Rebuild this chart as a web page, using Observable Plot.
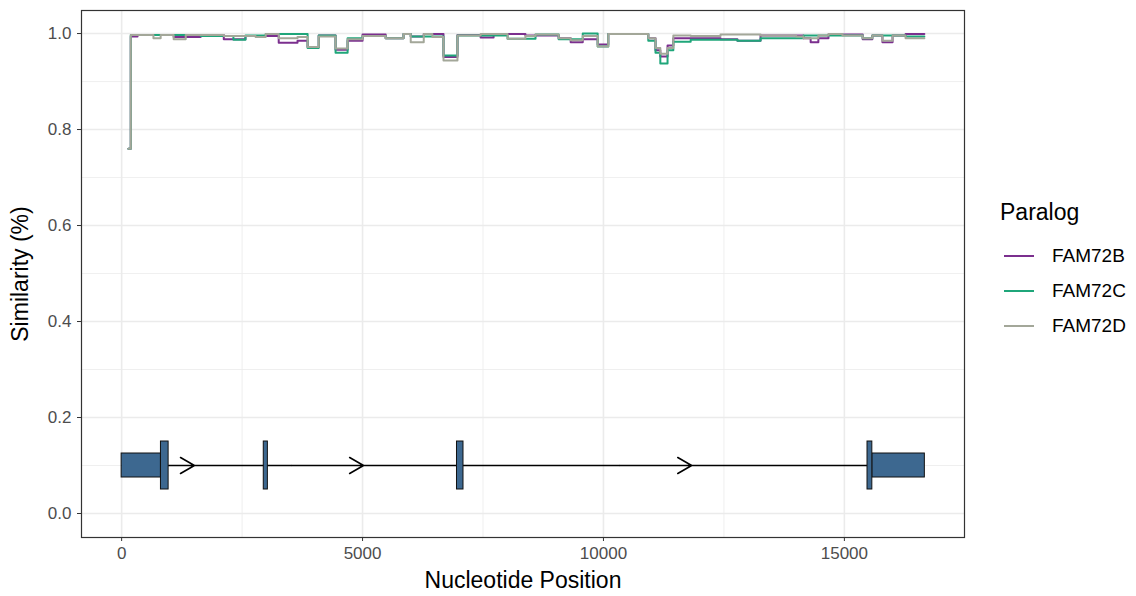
<!DOCTYPE html>
<html>
<head>
<meta charset="utf-8">
<script src="https://cdn.jsdelivr.net/npm/d3@7"></script>
<script src="https://cdn.jsdelivr.net/npm/@observablehq/plot@0.6"></script>
<style>
  html, body { margin: 0; padding: 0; background: #fff; }
  body { width: 1136px; height: 596px; position: relative; overflow: hidden; font-family: "Liberation Sans", Arial, sans-serif; }
  #chart { position: absolute; left: 0; top: 0; }
  #legend { position: absolute; left: 1000px; top: 198px; color: #000; }
  #legend .title { font-size: 23px; line-height: 28px; margin-bottom: 12px; }
  #legend .item { display: flex; align-items: center; height: 35px; font-size: 19px; }
  #legend .key { width: 30px; height: 2px; margin-left: 4px; margin-right: 18px; }
</style>
</head>
<body>
<div id="chart"></div>
<div id="legend"></div>
<script>
// ---- data ----
const paralogs = ["FAM72B", "FAM72C", "FAM72D"];
const colors = ["#7B2F8E", "#1FA67A", "#A3A799"];

const fam72bPos = [140, 190, 330, 1080, 1640, 2120, 2570, 3260, 3650, 3860, 4090, 4440, 4690, 5000, 5480, 5850, 6000, 6270, 6680, 6970, 7450, 7720, 8380, 9070, 9320, 9570, 9880, 10100, 10930, 11080, 11180, 11330, 11450, 12430, 12780, 13260, 14150, 14300, 14460, 14670, 15380, 15580, 15790, 16000, 16270, 16660];
const fam72bSim = [0.76, 0.994, 0.997, 0.993, 0.997, 0.988, 0.995, 0.981, 0.985, 0.972, 0.996, 0.966, 0.985, 0.998, 0.990, 0.999, 0.994, 0.999, 0.951, 0.997, 0.992, 0.999, 0.996, 0.990, 0.982, 0.988, 0.977, 0.999, 0.990, 0.965, 0.952, 0.975, 0.990, 0.988, 0.985, 0.996, 0.990, 0.982, 0.990, 0.998, 0.988, 0.996, 0.982, 0.996, 0.999, 0.999];

const fam72cPos = [140, 190, 1640, 2320, 2570, 2990, 3860, 4090, 4440, 4690, 5000, 5480, 5850, 6000, 6680, 6970, 8010, 8590, 9070, 9570, 9880, 10100, 10930, 11080, 11180, 11330, 11450, 11810, 12780, 13260, 14150, 15380, 15580, 16270, 16660];
const fam72cSim = [0.76, 0.997, 0.995, 0.987, 0.996, 0.999, 0.970, 0.996, 0.960, 0.990, 0.995, 0.990, 0.999, 0.994, 0.954, 0.996, 0.989, 0.998, 0.988, 1.000, 0.973, 0.999, 0.985, 0.960, 0.9375, 0.965, 0.983, 0.987, 0.985, 0.990, 0.996, 0.990, 0.996, 0.994, 0.994];

const fam72dPos = [140, 190, 660, 810, 1080, 1330, 2120, 2780, 2990, 3260, 3650, 3860, 4090, 4440, 4690, 5000, 5480, 5850, 6000, 6270, 6450, 6680, 6970, 7450, 8010, 8380, 8590, 9070, 9320, 9570, 9880, 10100, 10930, 11080, 11180, 11330, 11450, 11810, 12430, 13260, 14000, 14150, 14460, 14670, 14960, 15380, 15580, 15790, 16000, 16270, 16660];
const fam72dSim = [0.76, 0.997, 0.990, 0.997, 0.988, 0.997, 0.995, 0.993, 0.999, 0.990, 0.993, 0.972, 0.994, 0.969, 0.988, 0.995, 0.990, 0.999, 0.982, 0.999, 0.993, 0.944, 0.996, 0.999, 0.989, 0.995, 0.998, 0.990, 0.986, 0.995, 0.973, 0.999, 0.990, 0.970, 0.958, 0.970, 0.996, 0.995, 0.998, 0.996, 0.994, 0.990, 0.996, 0.999, 0.996, 0.990, 0.996, 0.985, 0.996, 0.990, 0.990];

// gene model (nucleotide coordinates)
const utrStart = [0, 15580];
const utrEnd = [816, 16670];
const exonStart = [816, 2950, 6960, 15480];
const exonEnd = [975, 3035, 7095, 15580];
const intronEndPos = 15480;
const arrowTips = [1510, 5020, 11830];
const arrowShaft = 1500;

const xTicks = [0, 5000, 10000, 15000];
const xMinor = [2500, 7500, 12500];
const yTicks = [0, 0.2, 0.4, 0.6, 0.8, 1.0];
const yMinor = [0.1, 0.3, 0.5, 0.7, 0.9];

// ---- tables ----
const series = [
  [paralogs[0], fam72bPos, fam72bSim],
  [paralogs[1], fam72cPos, fam72cSim],
  [paralogs[2], fam72dPos, fam72dSim]
];
const lineData = series.flatMap(([name, pos, sim]) => pos.map((p, i) => ({paralog: name, pos: p, sim: sim[i]})));
const utrs = utrStart.map((s, i) => ({s, e: utrEnd[i]}));
const exons = exonStart.map((s, i) => ({s, e: exonEnd[i]}));
const arrows = arrowTips.map(t => ({t}));
// intron line pieces between arrows (non-overlapping with the arrow shafts)
const intronPieces = arrowTips.map((t, i) => ({a: t, b: i + 1 < arrowTips.length ? arrowTips[i + 1] - arrowShaft : intronEndPos}));

const grid = "#EBEBEB";
const chart = Plot.plot({
  width: 985,
  height: 596,
  marginLeft: 81,
  marginRight: 21,
  marginTop: 10,
  marginBottom: 59,
  style: {fontFamily: "Liberation Sans, Arial, sans-serif", fontSize: "17px", background: "#fff"},
  x: {domain: [-833, 17493]},
  y: {domain: [-0.05, 1.048]},
  color: {domain: paralogs, range: colors},
  marks: [
    Plot.ruleX(xMinor, {stroke: grid, strokeWidth: 0.8}),
    Plot.ruleY(yMinor, {stroke: grid, strokeWidth: 0.8}),
    Plot.ruleX(xTicks, {stroke: grid, strokeWidth: 1.6}),
    Plot.ruleY(yTicks, {stroke: grid, strokeWidth: 1.6}),
    Plot.line(lineData, {x: "pos", y: "sim", z: "paralog", stroke: "paralog", curve: "step-after", strokeWidth: 2}),
    Plot.link(intronPieces, {x1: "a", x2: "b", y1: 0.1, y2: 0.1, stroke: "#000", strokeWidth: 1.6}),
    Plot.arrow(arrows, {x1: d => d.t - arrowShaft, x2: d => d.t, y1: 0.1, y2: 0.1, stroke: "#000", strokeWidth: 1.6, headLength: 15, headAngle: 60, bend: 0}),
    Plot.rect(utrs, {x1: "s", x2: "e", y1: 0.075, y2: 0.125, fill: "#3D6890", stroke: "#111", strokeWidth: 1}),
    Plot.rect(exons, {x1: "s", x2: "e", y1: 0.05, y2: 0.15, fill: "#3D6890", stroke: "#111", strokeWidth: 1}),
    Plot.frame({stroke: "#333", strokeWidth: 1.2}),
    Plot.axisX({ticks: xTicks, tickFormat: d => String(d), tickSize: 4, tickPadding: 5, stroke: "#333", color: "#4D4D4D", fontSize: 17,
                label: "Nucleotide Position", labelAnchor: "center", labelArrow: "none", labelOffset: 50}),
    Plot.axisY({ticks: yTicks, tickFormat: d3.format(".1f"), tickSize: 4, tickPadding: 6, stroke: "#333", color: "#4D4D4D", fontSize: 17,
                label: "Similarity (%)", labelAnchor: "center", labelArrow: "none", labelOffset: 70})
  ]
});
document.getElementById("chart").appendChild(chart);

// style axis titles
chart.querySelectorAll("g[aria-label='x-axis label'] text, g[aria-label='y-axis label'] text").forEach(t => {
  t.setAttribute("fill", "#000");
  t.style.fontSize = "23px";
});

// legend
const legend = document.getElementById("legend");
legend.innerHTML = `<div class="title">Paralog</div>` +
  paralogs.map((p, i) => `<div class="item"><div class="key" style="background:${colors[i]}"></div><span>${p}</span></div>`).join("");
</script>
</body>
</html>
